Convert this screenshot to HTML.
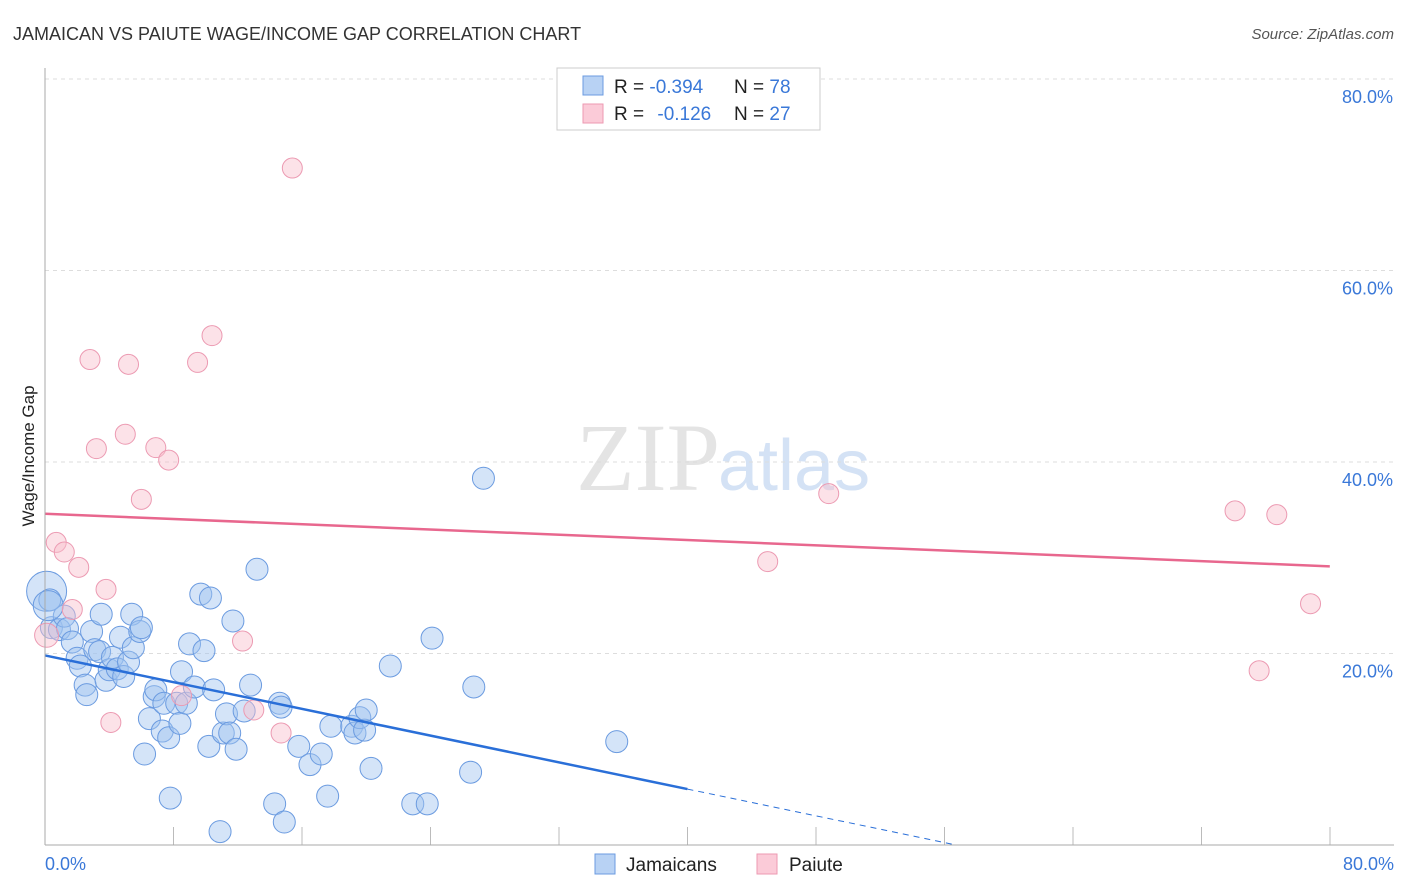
<!DOCTYPE html>
<html><head><meta charset="utf-8"><style>
body{margin:0;background:#fff;font-family:"Liberation Sans",sans-serif}
svg{display:block}
</style></head><body>
<svg width="1406" height="892" id="c">
<text x="13" y="40" font-size="18" fill="#333">JAMAICAN VS PAIUTE WAGE/INCOME GAP CORRELATION CHART</text>
<text x="1394" y="39" font-size="15" fill="#555" font-style="italic" text-anchor="end">Source: ZipAtlas.com</text>
<text x="720" y="490" font-size="96" fill="#e4e4e4" font-family="Liberation Serif" text-anchor="end">ZIP</text>
<text x="718" y="490" font-size="72" fill="#d4e2f5">atlas</text>
<text transform="translate(34,456) rotate(-90)" font-size="17" fill="#222" text-anchor="middle">Wage/Income Gap</text>
<g id="grid"></g><g id="pts"></g><g id="trend"></g>
<line x1="45" y1="68" x2="45" y2="845" stroke="#aaa"/>
<line x1="45" y1="845" x2="1394" y2="845" stroke="#aaa"/>
<text x="45" y="870" font-size="18" fill="#3a78d8">0.0%</text>
<text x="1394" y="870" font-size="18" fill="#3a78d8" text-anchor="end">80.0%</text>
<g>
<rect x="557" y="68" width="263" height="62" fill="#fff" stroke="#ccc"/>
<rect x="583" y="76" width="20" height="19" fill="#b8d2f4" stroke="#6b9be0"/>
<rect x="583" y="104" width="20" height="19" fill="#fbcbd8" stroke="#ec9ab2"/>
<text x="614" y="93" font-size="19" fill="#222">R = <tspan fill="#3a78d8">-0.394</tspan><tspan x="734">N = </tspan><tspan fill="#3a78d8">78</tspan></text>
<text x="614" y="120" font-size="19" fill="#222">R = <tspan fill="#3a78d8" dx="8">-0.126</tspan><tspan x="734">N = </tspan><tspan fill="#3a78d8">27</tspan></text>
</g>
<g>
<rect x="595" y="854" width="20" height="20" fill="#b8d2f4" stroke="#6b9be0"/>
<text x="626" y="871" font-size="19" fill="#222">Jamaicans</text>
<rect x="757" y="854" width="20" height="20" fill="#fbcbd8" stroke="#ec9ab2"/>
<text x="789" y="871" font-size="19" fill="#222">Paiute</text>
</g>
</svg>
<script>
const blueX=[0.1,0.3,0.4,0.9,1.2,1.4,1.7,2.0,2.2,2.5,2.6,2.9,3.1,3.4,3.5,3.8,4.0,4.2,4.5,4.7,4.9,5.2,5.4,5.5,5.9,6.0,6.2,6.5,6.8,6.9,7.3,7.4,7.7,7.8,8.2,8.4,8.5,8.8,9.0,9.3,9.7,9.9,10.2,10.3,10.5,10.9,11.1,11.3,11.5,11.7,11.9,12.4,12.8,13.2,14.3,14.6,14.7,14.9,15.8,16.5,17.2,17.6,17.8,19.1,19.3,19.6,19.9,20.0,20.3,21.5,22.9,23.8,24.1,26.5,26.7,27.3,35.6,0.2];
const blueY=[26.5,25.6,22.7,22.5,23.9,22.6,21.2,19.5,18.7,16.7,15.7,22.3,20.4,20.2,24.1,17.2,18.3,19.6,18.4,21.7,17.6,19.1,24.1,20.6,22.3,22.7,9.5,13.2,15.5,16.2,11.9,14.8,11.2,4.9,14.8,12.7,18.1,14.8,21.0,16.5,26.2,20.3,10.3,25.8,16.2,1.4,11.7,13.7,11.7,23.4,10.0,14.0,16.7,28.8,4.3,14.8,14.4,2.4,10.3,8.4,9.5,5.1,12.4,12.4,11.7,13.3,12.0,14.1,8.0,18.7,4.3,4.3,21.6,7.6,16.5,38.3,10.8,25.0];
const pinkX=[15.4,2.8,5.2,9.5,10.4,3.2,5.0,6.9,7.7,6.0,0.7,1.2,2.1,3.8,1.7,0.1,4.1,8.5,12.3,13.0,14.7,48.8,45.0,74.1,76.7,78.8,75.6];
const pinkY=[70.7,50.7,50.2,50.4,53.2,41.4,42.9,41.5,40.2,36.1,31.6,30.6,29.0,26.7,24.6,21.9,12.8,15.6,21.3,14.1,11.7,36.7,29.6,34.9,34.5,25.2,18.2];
const yTicks=[20,40,60,80];
const blueTrend=[19.8,-0.349];
const pinkTrend=[34.6,29.1];
const X=v=>45+v*16.06, Y=v=>845-v*9.575;
const NS="http://www.w3.org/2000/svg";
function mk(t,a,p){const e=document.createElementNS(NS,t);for(const k in a)e.setAttribute(k,a[k]);p.appendChild(e);return e;}
const grid=document.getElementById('grid');
yTicks.forEach(t=>{
 const l=mk('line',{x1:45,x2:1394,y1:Y(t),y2:Y(t),stroke:'#ddd','stroke-dasharray':'4,4'},grid);
 
 
 const tx=mk('text',{x:1393,y:Y(t)+24,'font-size':18,fill:'#3a78d8','text-anchor':'end'},grid);
 tx.textContent=t.toFixed(1)+'%';
 
 
});
for(let i=1;i<=10;i++){const l=mk('line',{x1:45+i*128.5,x2:45+i*128.5,y1:827,y2:845,stroke:'#bbb'},grid);
 
 }
const pts=document.getElementById('pts');
blueX.forEach((x,i)=>{const c=mk('circle',{cx:X(x),cy:Y(blueY[i]),r:i==0?20:(i==77?15:11),fill:'rgba(160,196,240,0.45)',stroke:'#6b9be0','stroke-width':1},pts);
 
 });
pinkX.forEach((x,i)=>{const c=mk('circle',{cx:X(x),cy:Y(pinkY[i]),r:i==15?12:10,fill:'rgba(248,190,205,0.45)',stroke:'#ec9ab2','stroke-width':1},pts);
 
 });
const tr=document.getElementById('trend');
const by=x=>blueTrend[0]+blueTrend[1]*x;
let l=mk('line',{x1:X(0),y1:Y(by(0)),x2:X(40),y2:Y(by(40)),stroke:'#2a6fd8','stroke-width':2.5},tr);


const xe=-blueTrend[0]/blueTrend[1];
l=mk('line',{x1:X(40),y1:Y(by(40)),x2:X(xe),y2:Y(0),stroke:'#2a6fd8','stroke-width':1,'stroke-dasharray':'6,5'},tr);


l=mk('line',{x1:X(0),y1:Y(pinkTrend[0]),x2:X(80),y2:Y(pinkTrend[1]),stroke:'#e8678e','stroke-width':2.5},tr);


</script>
</body></html>
